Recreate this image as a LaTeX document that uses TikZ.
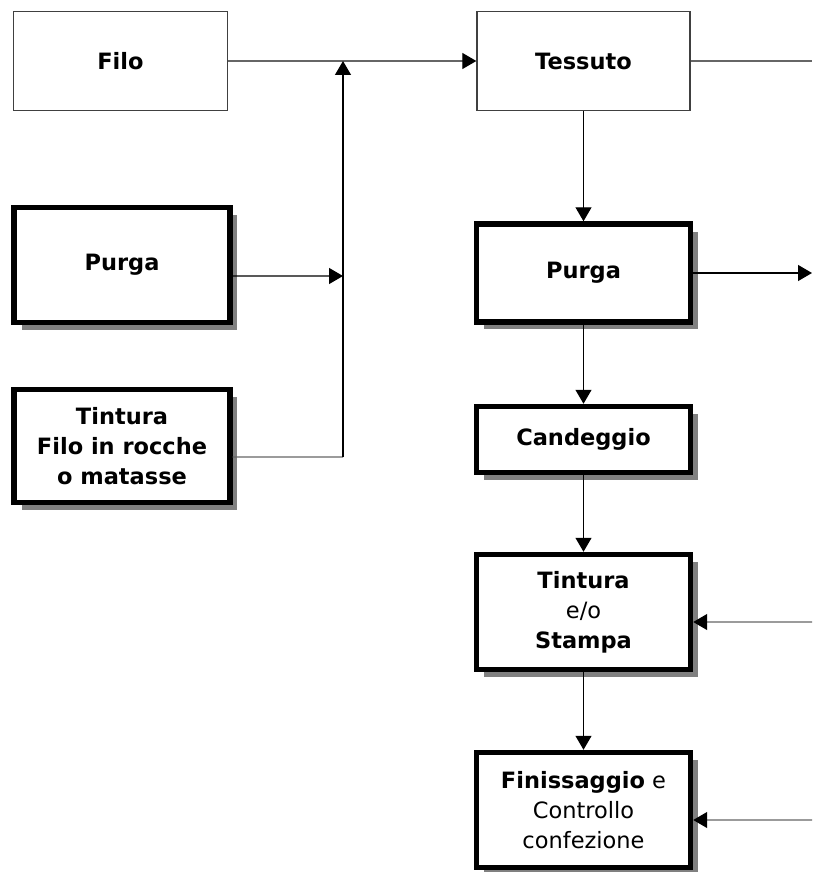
\documentclass[tikz,border=0pt]{standalone}
\usepackage{fontspec}
\setmainfont{DejaVu Sans}
\usetikzlibrary{arrows.meta,shadows}

\begin{document}
\begin{tikzpicture}[x=0.02cm, y=-0.02cm,
  thinbox/.style={draw=black!75, line width=0.8pt, minimum width=4.28cm, minimum height=1.98cm, align=center, inner sep=0pt, font=\fontsize{12.8}{17}\selectfont\bfseries},
  thickbox/.style={draw=black, line width=0.11cm, fill=white, minimum width=4.32cm, align=center, inner sep=0pt, font=\fontsize{12.8}{17}\selectfont,
    drop shadow={shadow xshift=0.15cm, shadow yshift=-0.15cm, fill=black!50, opacity=1}},
  flow/.style={line width=0.7pt, -{Triangle[length=0.28cm, width=0.32cm, color=black]}},
  wire/.style={line width=0.7pt, black!60}]

\useasboundingbox (0,0) rectangle (812,872);

\node[thinbox] at (120.5,61) (filo) {Filo};
\node[thinbox, minimum width=4.26cm] at (583.5,61) (tessuto) {Tessuto};

\node[thickbox, minimum height=2.3cm] at (122,265) (purgaL) {\textbf{Purga}};
\node[thickbox, minimum height=2.26cm] at (122,446) (tinturaL) {\textbf{Tintura}\\\textbf{Filo in rocche}\\\textbf{o matasse}};

\node[thickbox, minimum width=4.28cm, minimum height=1.96cm] at (583.5,273) (purgaR) {\textbf{Purga}};
\node[thickbox, minimum width=4.28cm, minimum height=1.32cm] at (583.5,439.5) (candeggio) {\textbf{Candeggio}};
\node[thickbox, minimum width=4.28cm, minimum height=2.3cm] at (583.5,612) (tintS) {\textbf{Tintura}\\e/o\\\textbf{Stampa}};
\node[thickbox, minimum width=4.28cm, minimum height=2.3cm] at (583.5,810) (finiss) {\textbf{Finissaggio} e\\Controllo\\confezione};

\coordinate (jn) at (343,61);
\coordinate (jp) at (343,276);
\coordinate (jt) at (343,457);
\coordinate (outA) at (812,61);
\coordinate (outB) at (812,273);
\coordinate (inC) at (812,622);
\coordinate (inD) at (812,820);

\draw[flow, black!60] (filo.east) -- (tessuto.west);
\draw[wire] (tessuto.east) -- (outA);
\draw[flow] ([yshift=-0.22cm]purgaL.east) -- (jp);
\draw[wire] ([yshift=-0.22cm]tinturaL.east) -- (jt);
\draw[flow] (jt) -- (jn);

\draw[flow] (tessuto) -- (purgaR);
\draw[flow] (purgaR.east) -- (outB);
\draw[flow] (purgaR) -- (candeggio);
\draw[flow] (candeggio) -- (tintS);
\draw[flow] (tintS) -- (finiss);
\draw[flow, black!60] (inC) -- ([yshift=-0.2cm]tintS.east);
\draw[flow, black!60] (inD) -- ([yshift=-0.2cm]finiss.east);
\end{tikzpicture}
\end{document}
